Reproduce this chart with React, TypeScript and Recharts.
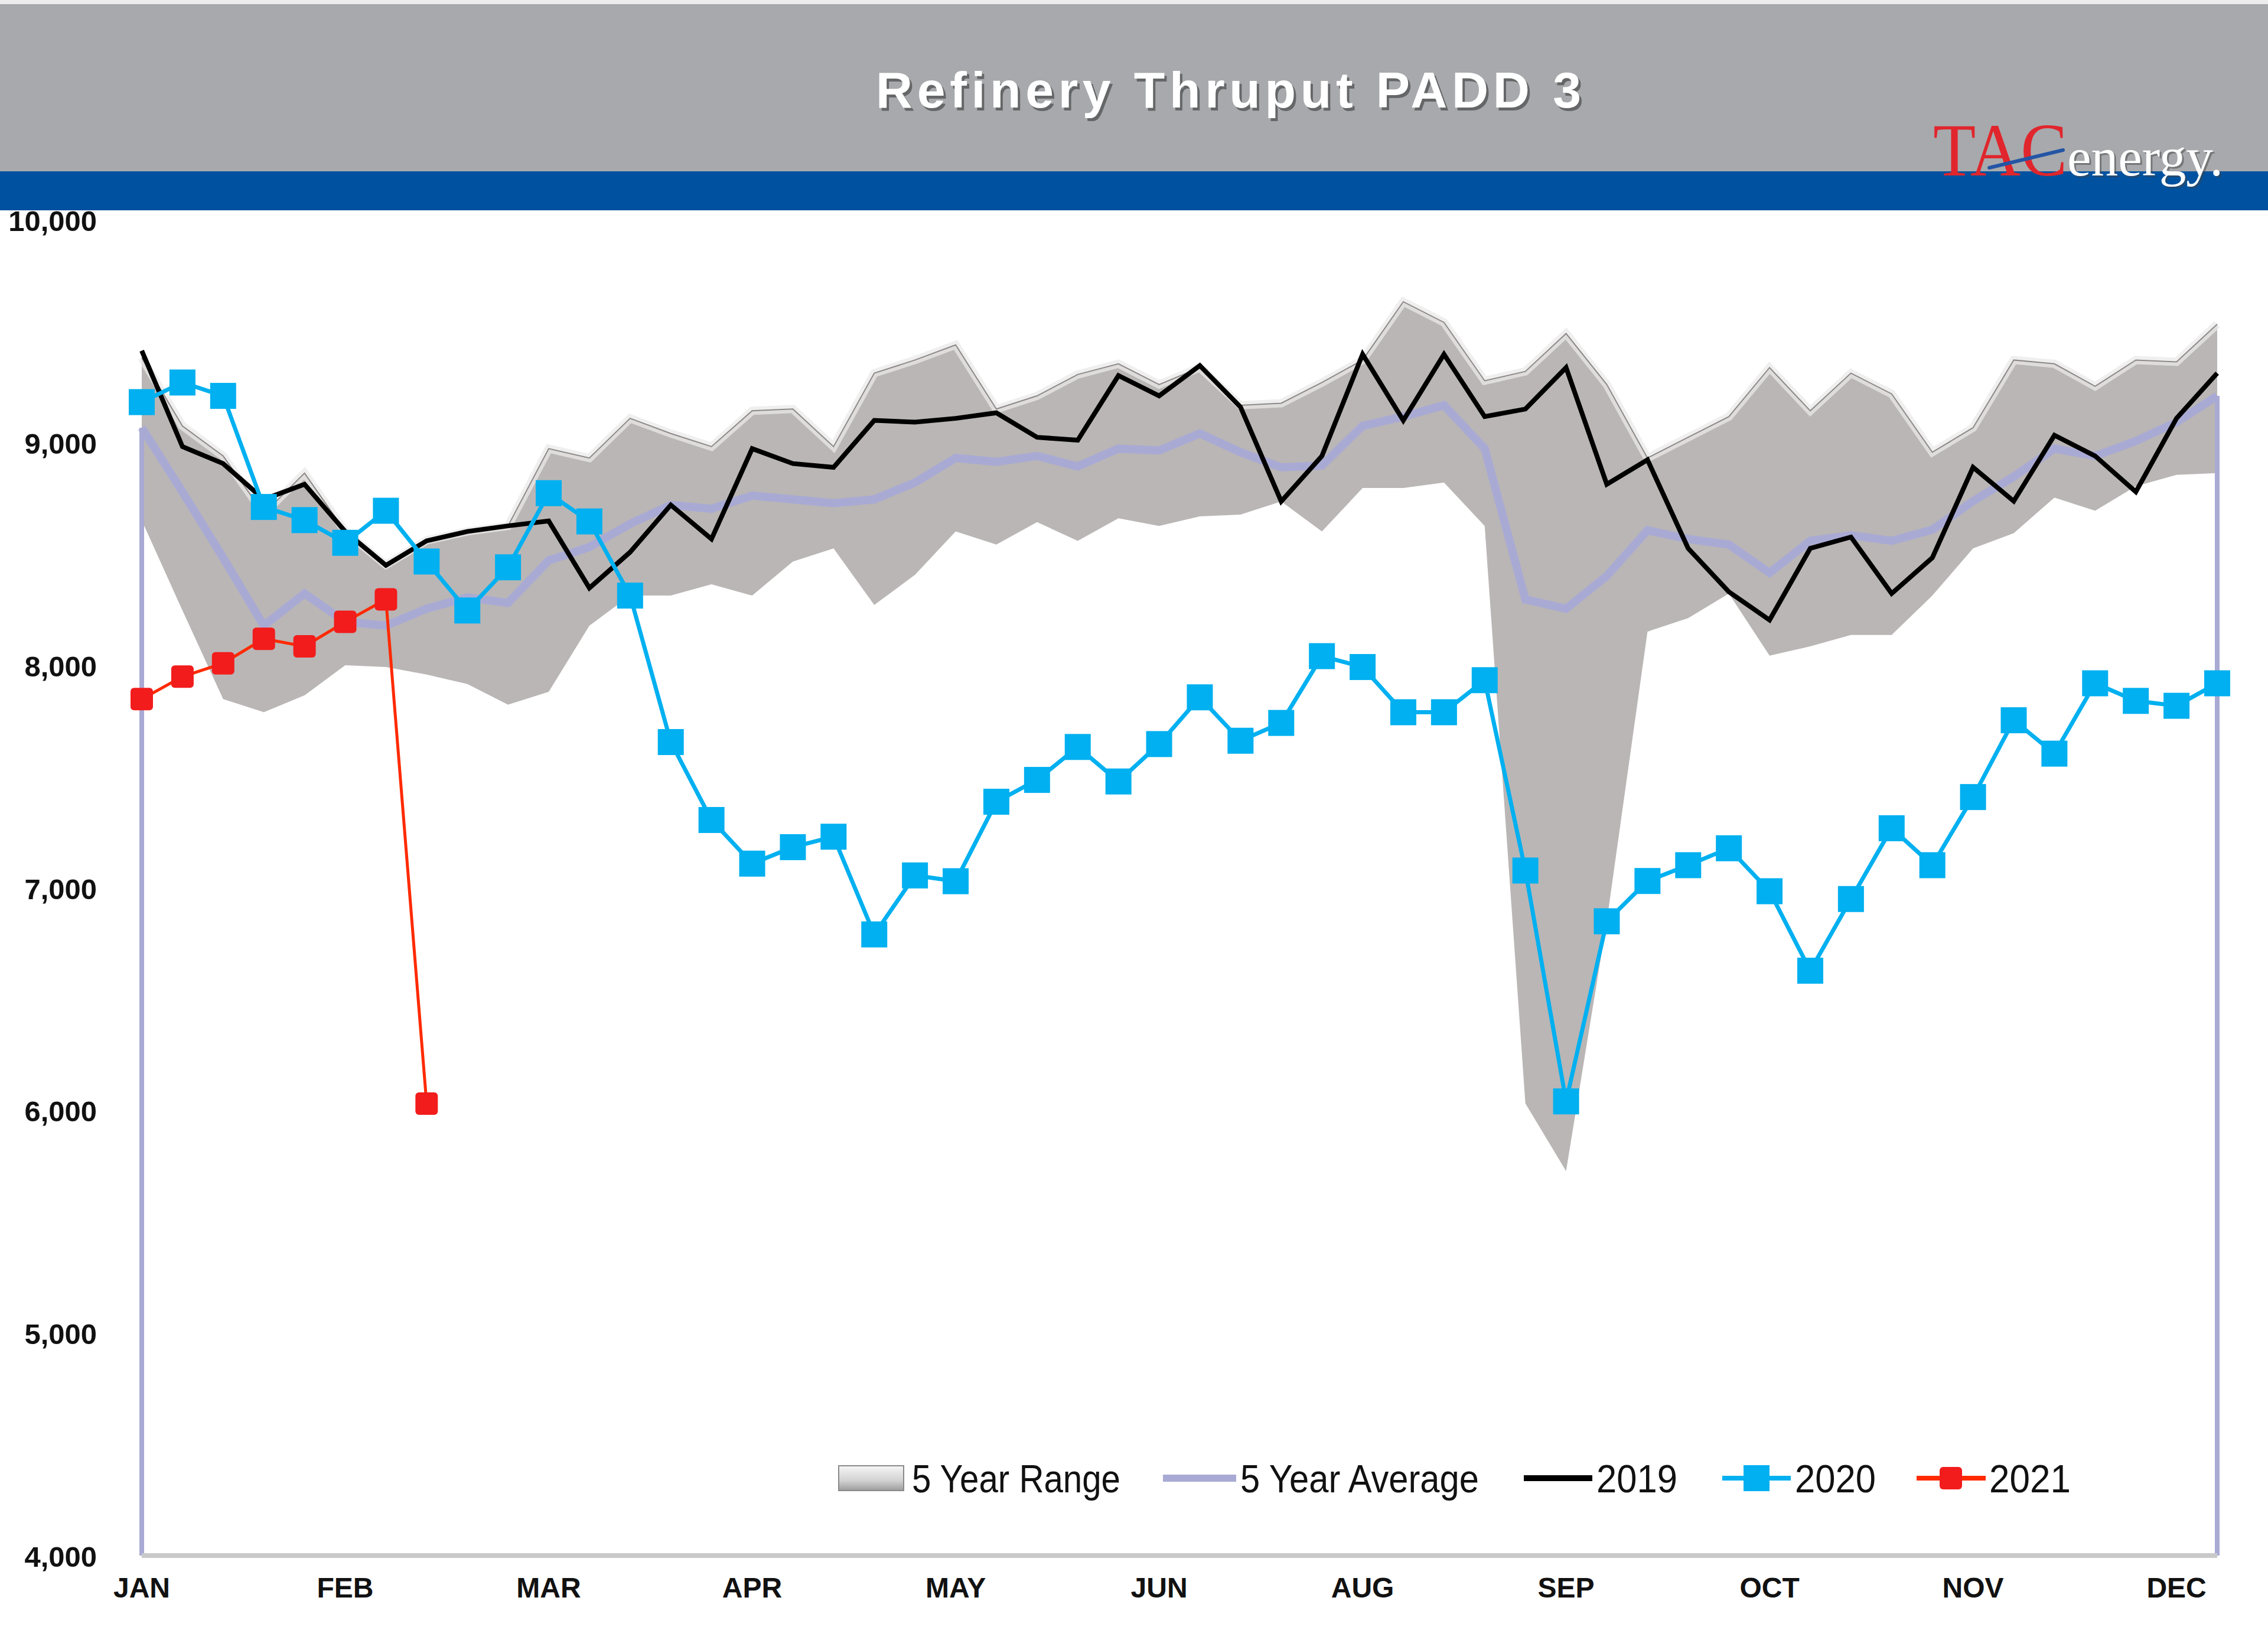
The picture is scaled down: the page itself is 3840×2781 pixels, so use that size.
import React from 'react';
import { ComposedChart, Area, Line, XAxis, YAxis, ReferenceLine, Legend } from 'recharts';

// weekly values, kb/d
const rangeMax = [
  9380, 9074, 8939, 8680, 8862, 8600, 8450, 8560, 8600, 8625,
  8972, 8930, 9108, 9040, 8981, 9142, 9150, 8981, 9311, 9370,
  9438, 9150, 9209, 9305, 9353, 9260, 9336, 9167, 9176, 9269,
  9370, 9632, 9539, 9277, 9319, 9489, 9260, 8930, 9023, 9116,
  9336, 9142, 9311, 9218, 8956, 9066, 9370, 9353, 9252, 9370,
  9362, 9531,
];
const rangeMin = [
  8650, 8245, 7847, 7788, 7864, 7999, 7991, 7957, 7915, 7822,
  7880, 8177, 8312, 8312, 8363, 8312, 8465, 8524, 8270, 8405,
  8600, 8541, 8642, 8558, 8659, 8625, 8668, 8676, 8735, 8600,
  8795, 8795, 8820, 8625, 6031, 5727, 6849, 8150, 8211, 8321,
  8042, 8084, 8135, 8135, 8312, 8524, 8592, 8752, 8693, 8803,
  8854, 8862,
];
const avg5 = [
  9066, 8778, 8482, 8177, 8321, 8194, 8177, 8253, 8304, 8279,
  8470, 8530, 8634, 8719, 8702, 8761, 8744, 8727, 8744, 8820,
  8930, 8913, 8939, 8892, 8972, 8964, 9040, 8956, 8888, 8896,
  9074, 9116, 9167, 8972, 8295, 8253, 8400, 8605, 8566, 8541,
  8414, 8558, 8583, 8558, 8608, 8736, 8846, 8972, 8939, 9006,
  9091, 9209,
];
const y2019 = [
  9412, 8981, 8905, 8744, 8812, 8600, 8448, 8558, 8600, 8625,
  8647, 8346, 8507, 8719, 8566, 8972, 8905, 8888, 9099, 9091,
  9108, 9133, 9023, 9010, 9300, 9209, 9345, 9159, 8735, 8939,
  9396, 9099, 9396, 9116, 9150, 9336, 8812, 8922, 8524, 8329,
  8202, 8524, 8575, 8321, 8482, 8888, 8736, 9032, 8939, 8778,
  9108, 9311,
];
const y2020 = [
  9181, 9269, 9209, 8710, 8651, 8549, 8693, 8465, 8245, 8439,
  8772, 8645, 8312, 7654, 7304, 7108, 7182, 7229, 6790, 7055,
  7029, 7386, 7484, 7632, 7477, 7645, 7855, 7660, 7740, 8040,
  7991, 7788, 7788, 7932, 7077, 6040, 6849, 7030, 7101, 7177,
  6984, 6627, 6949, 7267, 7101, 7407, 7752, 7602, 7918, 7839,
  7817, 7918,
];
const y2021 = [7847, 7948, 8008, 8118, 8084, 8194, 8295, 6030];

const tickWeeks = [0, 5, 10, 15, 20, 25, 30, 35, 40, 45, 50];
const tickLabels = ['JAN', 'FEB', 'MAR', 'APR', 'MAY', 'JUN', 'AUG', 'SEP', 'OCT', 'NOV', 'DEC'];
const yTicks = [4000, 5000, 6000, 7000, 8000, 9000, 10000];

const data = y2020.map((v, i) => ({
  week: i,
  range: [rangeMin[i], rangeMax[i]],
  max: rangeMax[i],
  avg: avg5[i],
  y2019: y2019[i],
  y2020: v,
  y2021: i < y2021.length ? y2021[i] : null,
}));

const AVG_COLOR = '#a9aad4';
const BLUE = '#00b0f0';
const RED = '#f21c1c';
const AXIS_FONT = "'Liberation Sans', Arial, sans-serif";

const blueDot = (props: any) => {
  const { cx, cy, index } = props;
  if (cx == null || cy == null) return <g key={`b${index}`} />;
  return <rect key={`b${index}`} x={cx - 22} y={cy - 22} width={44} height={44} fill={BLUE} />;
};

const redDot = (props: any) => {
  const { cx, cy, index, value } = props;
  if (cx == null || cy == null || value == null) return <g key={`r${index}`} />;
  return <rect key={`r${index}`} x={cx - 19} y={cy - 19} width={38} height={38} rx={6} fill={RED} />;
};

const YTick = (props: any) => {
  const { x, y, payload } = props;
  return (
    <text x={x} y={y + 19} textAnchor="end" fontSize={49} fontWeight="bold" fontFamily={AXIS_FONT} fill="#111">
      {Number(payload.value).toLocaleString('en-US')}
    </text>
  );
};

const legendFont = "'Liberation Sans Narrow', 'Liberation Sans', Arial, sans-serif";

function LegendContent() {
  const cy = 40;
  const txt = (x: number, s: string, w: number) => (
    <text x={x} y={cy + 24} fontSize={66} fontFamily={legendFont} fill="#111"
      textLength={w} lengthAdjust="spacingAndGlyphs">{s}</text>
  );
  return (
    <svg width={3840} height={80} style={{ display: 'block' }}>
      <defs>
        <linearGradient id="swatchGrad" x1="0" y1="0" x2="0" y2="1">
          <stop offset="0" stopColor="#f6f6f6" />
          <stop offset="0.6" stopColor="#d2d2d2" />
          <stop offset="1" stopColor="#9c9c9c" />
        </linearGradient>
      </defs>
      <rect x={1420} y={cy - 21} width={110} height={42} fill="url(#swatchGrad)" stroke="#8a8a8a" strokeWidth={2} />
      {txt(1544, '5 Year Range', 353)}
      <line x1={1969} x2={2093} y1={cy} y2={cy} stroke={AVG_COLOR} strokeWidth={12} />
      {txt(2100, '5 Year Average', 404)}
      <line x1={2580} x2={2696} y1={cy} y2={cy} stroke="#000" strokeWidth={10} />
      {txt(2703, '2019', 137)}
      <line x1={2916} x2={3032} y1={cy} y2={cy} stroke={BLUE} strokeWidth={8} />
      <rect x={2952} y={cy - 22} width={44} height={44} fill={BLUE} />
      {txt(3039, '2020', 137)}
      <line x1={3245} x2={3362} y1={cy} y2={cy} stroke="#ff2a00" strokeWidth={8} />
      <rect x={3284} y={cy - 19} width={38} height={38} rx={6} fill={RED} />
      {txt(3368, '2021', 138)}
    </svg>
  );
}

function Header() {
  return (
    <svg width={3840} height={356} style={{ position: 'absolute', left: 0, top: 0 }}>
      <rect x={0} y={0} width={3840} height={356} fill="#ececec" />
      <rect x={0} y={7} width={3840} height={285} fill="#a7a9ac" />
      <rect x={0} y={290} width={3840} height={66} fill="#0052a0" />
      <text x={1487} y={187} fontSize={86} fontWeight="bold" fontFamily={AXIS_FONT}
        fill="#3a3a3a" opacity={0.6} textLength={1194} lengthAdjust="spacing">Refinery Thruput PADD 3</text>
      <text x={1483} y={182} fontSize={86} fontWeight="bold" fontFamily={AXIS_FONT}
        fill="#ffffff" textLength={1194} lengthAdjust="spacing">Refinery Thruput PADD 3</text>
      <text x={3273} y={297} fontSize={126} fontFamily="'Liberation Serif', serif" fill="#e0262c"
        textLength={227} lengthAdjust="spacingAndGlyphs">TAC</text>
      <text x={3503} y={300} fontSize={92} fontFamily="'Liberation Serif', serif" fill="#444" opacity={0.5}
        textLength={264} lengthAdjust="spacingAndGlyphs">energy.</text>
      <text x={3500} y={297} fontSize={92} fontFamily="'Liberation Serif', serif" fill="#ffffff"
        textLength={264} lengthAdjust="spacingAndGlyphs">energy.</text>
      <line x1={3368} y1={284} x2={3493} y2={254} stroke="#2355a5" strokeWidth={6} strokeLinecap="round" />
    </svg>
  );
}

export default function App() {
  return (
    <div style={{ position: 'absolute', left: 0, top: 0, width: 3840, height: 2781, background: '#fff', overflow: 'hidden' }}>
      <Header />
      <div style={{ position: 'absolute', left: 0, top: 300 }}>
        <ComposedChart width={3840} height={2481} data={data}
          margin={{ top: 72, right: 86, left: 0, bottom: 0 }}>
          <XAxis
            dataKey="week"
            type="number"
            domain={[0, 51]}
            ticks={tickWeeks}
            tickFormatter={(v: number) => tickLabels[tickWeeks.indexOf(v)]}
            height={148}
            tickLine={false}
            tickSize={0}
            tickMargin={37}
            axisLine={{ stroke: '#c9c9c9', strokeWidth: 8 }}
            tick={{ fontSize: 48, fontWeight: 'bold', fontFamily: AXIS_FONT, fill: '#111' }}
            interval={0}
          />
          <YAxis
            type="number"
            domain={[4000, 10000]}
            ticks={yTicks}
            width={240}
            tickLine={false}
            axisLine={false}
            tickSize={0}
            tickMargin={76}
            tick={<YTick />}
            allowDataOverflow
          />
          <Area
            dataKey="range"
            name="5 Year Range"
            type="linear"
            fill="#bab6b5"
            fillOpacity={1}
            stroke="none"
            isAnimationActive={false}
            activeDot={false}
          />
          {/* bevel highlight + thin outline along the top of the range */}
          <Line
            dataKey="max"
            legendType="none"
            type="linear"
            stroke="#ebe9e9"
            strokeOpacity={0.75}
            strokeWidth={14}
            dot={false}
            activeDot={false}
            isAnimationActive={false}
          />
          <Line
            dataKey="max"
            legendType="none"
            type="linear"
            stroke="#8e8989"
            strokeWidth={2}
            dot={false}
            activeDot={false}
            isAnimationActive={false}
          />
          <Line
            dataKey="avg"
            name="5 Year Average"
            type="linear"
            stroke={AVG_COLOR}
            strokeWidth={14}
            dot={false}
            activeDot={false}
            isAnimationActive={false}
          />
          <ReferenceLine segment={[{ x: 0, y: 4000 }, { x: 0, y: avg5[0] }]} stroke={AVG_COLOR} strokeWidth={8} />
          <ReferenceLine segment={[{ x: 51, y: 4000 }, { x: 51, y: avg5[51] }]} stroke={AVG_COLOR} strokeWidth={8} />
          <Line
            dataKey="y2019"
            name="2019"
            type="linear"
            stroke="#000000"
            strokeWidth={8}
            dot={false}
            activeDot={false}
            isAnimationActive={false}
          />
          <Line
            dataKey="y2020"
            name="2020"
            type="linear"
            stroke={BLUE}
            strokeWidth={7}
            dot={blueDot}
            activeDot={false}
            isAnimationActive={false}
          />
          <Line
            dataKey="y2021"
            name="2021"
            type="linear"
            stroke="#ff2a00"
            strokeWidth={5}
            dot={redDot}
            activeDot={false}
            connectNulls={false}
            isAnimationActive={false}
          />
          <Legend
            layout="horizontal"
            verticalAlign="middle"
            align="center"
            content={() => <LegendContent />}
            wrapperStyle={{ position: 'absolute', left: 0, top: 2162, width: 3840, height: 80 }}
          />
        </ComposedChart>
      </div>
    </div>
  );
}
